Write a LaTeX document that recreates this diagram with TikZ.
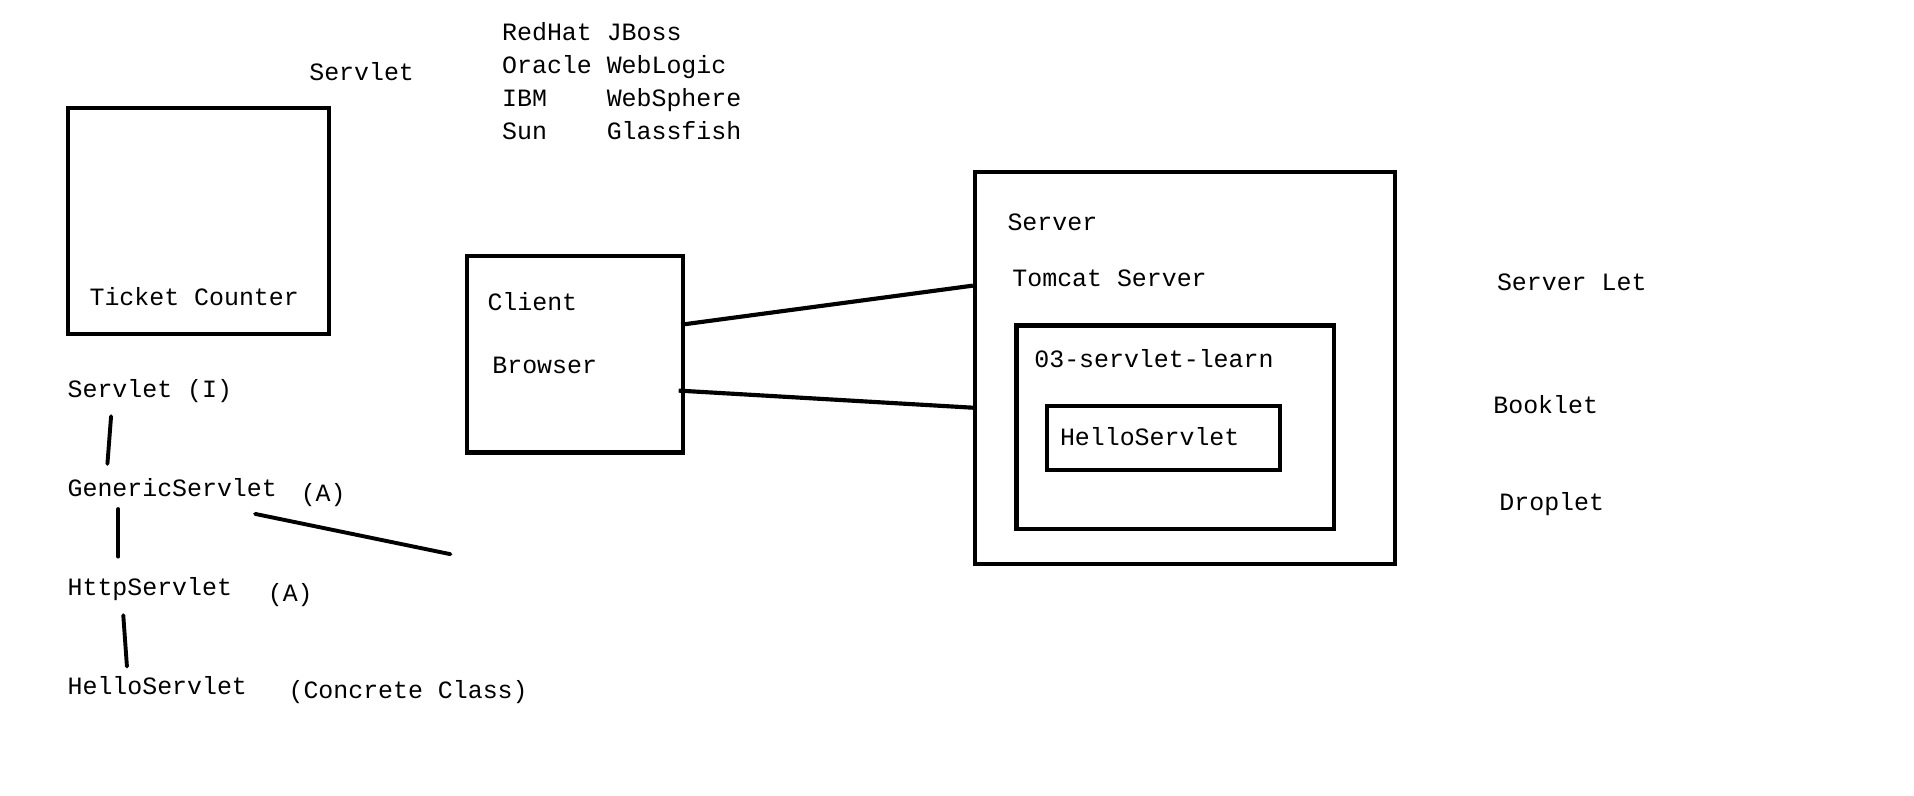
\documentclass[tikz,border=0pt]{standalone}
\usepackage{fontspec}
\setmonofont{Liberation Mono}
\begin{document}
\begin{tikzpicture}[x=0.5pt,y=-0.5pt,
  box/.style={draw, line width=1.7pt, inner sep=0pt, anchor=north west},
  txt/.style={anchor=base west, inner sep=0pt, font=\ttfamily\fontsize{10.2}{12}\selectfont},
  conn/.style={line width=1.6pt, line cap=round}]
\fill[white] (0,0) rectangle (1568,652);
\useasboundingbox (0,0) rectangle (1568,652);
% boxes
\node[box, minimum width=107pt, minimum height=92.5pt] (tc) at (54,87) {};
\node[box, minimum width=88.5pt, minimum height=80.5pt] (client) at (381,208) {};
\node[box, minimum width=172pt, minimum height=160.5pt] (server) at (797,139) {};
\node[box, minimum width=130pt, minimum height=83.5pt] (app) at (831,265) {};
\node[box, minimum width=95.5pt, minimum height=26pt] (hellobox) at (856,331) {};
% texts
\node[txt] (servlettop) at (253,66) {Servlet};
\node[txt] (redhat) at (411,33) {RedHat JBoss};
\node[txt] (oracle) at (411,60) {Oracle WebLogic};
\node[txt] (ibm) at (411,87) {IBM~~~~WebSphere};
\node[txt] (sun) at (411,114) {Sun~~~~Glassfish};
\node[txt] (ticket) at (73,250) {Ticket Counter};
\node[txt] (clienttxt) at (399,254) {Client};
\node[txt] (browser) at (403,306) {Browser};
\node[txt] (servertxt) at (825,189) {Server};
\node[txt] (tomcat) at (829,235) {Tomcat Server};
\node[txt] (learn) at (847,301) {03-servlet-learn};
\node[txt] (hellotxt) at (868,365) {HelloServlet};
\node[txt] (serverlet) at (1226,238) {Server Let};
\node[txt] (booklet) at (1223,339) {Booklet};
\node[txt] (droplet) at (1228,418) {Droplet};
\node[txt] (servletI) at (55,326) {Servlet (I)};
\node[txt] (generic) at (55,407) {GenericServlet};
\node[txt] (genA) at (246,411) {(A)};
\node[txt] (http) at (55,488) {HttpServlet};
\node[txt] (httpA) at (219,493) {(A)};
\node[txt] (hello) at (55,569) {HelloServlet};
\node[txt] (concrete) at (236,572) {(Concrete Class)};
% connector endpoints
\coordinate (c1) at (558,266);
\coordinate (s1) at (797,234);
\coordinate (c2) at (556,320);
\coordinate (s2) at (797,334);
\coordinate (h1a) at (91,341);
\coordinate (h1b) at (88,380);
\coordinate (h2a) at (97,417);
\coordinate (h2b) at (97,456);
\coordinate (g1) at (209,421);
\coordinate (g2) at (369,454);
\coordinate (h3a) at (101,504);
\coordinate (h3b) at (104,546);
\draw[line width=1.7pt] (c1) -- (s1);
\draw[line width=1.7pt] (c2) -- (s2);
\draw[conn] (h1a) -- (h1b);
\draw[conn] (h2a) -- (h2b);
\draw[conn] (g1) -- (g2);
\draw[conn] (h3a) -- (h3b);
\end{tikzpicture}
\end{document}
